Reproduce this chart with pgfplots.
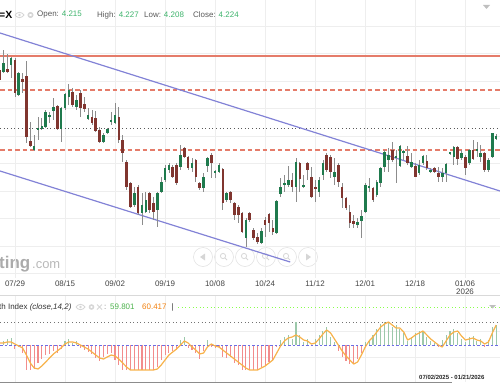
\documentclass[border=0pt]{standalone}
\usepackage{pgfplots}
\pgfplotsset{compat=1.18}
\usepackage{pgfplotstable}
\usepackage{fontspec}
\setmainfont{Liberation Sans}
\definecolor{gridc}{HTML}{EEEEEE}
\definecolor{resl}{HTML}{E57C6A}
\definecolor{trend}{HTML}{8282D6}
\definecolor{upc}{HTML}{1F7A4D}
\definecolor{dnc}{HTML}{80352F}
\definecolor{wickc}{HTML}{8C8C8C}
\definecolor{valg}{HTML}{3DB36B}
\definecolor{labc}{HTML}{444444}
\definecolor{barr}{HTML}{F28C8C}
\definecolor{barg}{HTML}{9CC8AA}
\definecolor{orn}{HTML}{F7B24A}
\definecolor{basec}{HTML}{6E6EE6}
\definecolor{wm}{HTML}{ABABAB}
\definecolor{icon}{HTML}{D6D6D6}

% candles: i = candle index, o h l c (screen units, larger = lower)
\pgfplotstableread{
i o h l c
0 70 68 82 80
1 72 50 73 63
2 69 54 73 72
3 65 57 78 58
4 60 58 97 93
5 95 72 96 73
6 79 73 93 82
7 76 61 143 137
8 141 122 147 146
9 150 135 151 146
10 129 117 140 128
11 129 118 130 126
12 127 110 128 112
13 116 112 123 115
14 111 98 120 107
15 106 105 130 129
16 129 107 142 108
17 108 93 110 94
18 97 84 105 90
19 92 88 107 105
20 107 95 110 100
21 93 90 117 108
22 104 97 112 109
23 119 108 120 115
24 117 110 125 123
25 118 111 132 131
26 130 127 143 142
27 142 133 143 135
28 133 128 134 129
29 121 112 125 120
30 123 103 124 115
31 117 107 143 140
32 140 135 162 153
33 162 160 190 187
34 183 182 208 207
35 205 187 207 193
36 187 185 215 213
37 213 193 225 205
38 212 192 213 200
39 193 192 213 210
40 203 197 220 212
41 210 192 227 193
42 192 177 193 182
43 180 165 182 168
44 170 163 173 165
45 167 165 178 177
46 165 163 185 183
47 167 145 170 155
48 148 147 158 157
49 157 156 170 168
50 168 158 172 163
51 160 159 182 177
52 183 182 190 188
53 188 173 192 177
54 166 157 172 158
55 155 153 178 163
56 172 170 178 171
57 172 163 173 165
58 169 168 210 203
59 200 192 202 193
60 192 191 203 200
61 203 202 220 215
62 207 205 223 215
63 213 212 233 232
64 238 218 247 220
65 213 212 222 220
66 230 228 240 238
67 237 233 244 242
68 243 228 244 231
69 220 217 237 225
70 214 213 232 223
71 228 220 235 232
72 233 200 234 201
73 194 178 197 187
74 184 175 192 183
75 185 166 187 180
76 180 173 192 187
77 187 158 202 162
78 163 162 192 179
79 187 175 188 185
80 163 162 180 170
81 177 167 198 197
82 187 180 202 188
83 192 177 197 180
84 175 160 180 163
85 155 153 172 170
86 157 155 178 172
87 177 158 185 172
88 165 163 187 182
89 187 183 208 198
90 198 197 210 208
91 212 205 228 223
92 221 215 228 224
93 225 218 228 222
94 221 210 238 216
95 212 183 213 185
96 187 178 192 186
97 188 187 202 200
98 195 180 197 182
99 183 167 187 168
100 167 150 172 152
101 160 148 172 155
102 150 142 162 160
103 157.5 150 183 156.5
104 166 145 167 146
105 152.5 150 160 151.5
106 156 146 165 163
107 167 153 168 162
108 166 163 177 177
109 173 160 175 165
110 163 155 165 156
111 161 155 170 168
112 171.5 168 173 170.5
113 168 167 173 172
114 173 167 182 177
115 177 168 182 173
116 173 163 182 164
117 153.5 152 155 152.5
118 157 146 165 147
119 147 146 165 159
120 158 150 160 153
121 157 155 175 168
122 163 149 165 150
123 150 140 160 159
124 150.5 142 157 149.5
125 157 145 162 153
126 153 152 172 170
127 170 158 172 160
128 157 133 158 133
129 139 134 140 136
}\candles

% indicator: k = histogram value, d = smoothed line
\pgfplotstableread{
i k d
0 3 2
1 4 2
2 6 3
3 7 3
4 -4 1
5 -2 -1
6 -8 -3
7 -25 -10
8 -25 -18
9 -24 -23
10 -18 -24
11 -14 -21
12 -10 -17
13 -9 -13
14 -6 -9
15 -8 -6
16 -4 -3
17 4 1
18 6 3
19 2 3
20 4 2
21 -3 0
22 -5 -2
23 -7 -4
24 -9 -7
25 -13 -10
26 -16 -13
27 -12 -14
28 -9 -12
29 -8 -10
30 -15 -11
31 -20 -14
32 -25 -18
33 -25 -22
34 -25 -25
35 -25 -25
36 -25 -25
37 -25 -25
38 -25 -25
39 -25 -25
40 -25 -25
41 -22 -24
42 -15 -20
43 -10 -15
44 -8 -10
45 -6 -7
46 -5 -4
47 5 0
48 8 4
49 -3 2
50 -5 -2
51 -8 -5
52 -14 -9
53 -6 -8
54 5 -2
55 -2 1
56 -3 -1
57 -2 -2
58 -12 -5
59 -13 -8
60 -12 -11
61 -18 -14
62 -20 -17
63 -25 -20
64 -25 -23
65 -25 -25
66 -25 -25
67 -25 -25
68 -22 -23
69 -20 -21
70 -17 -18
71 -16 -15
72 -2 -8
73 5 -1
74 8 4
75 10 7
76 6 8
77 23 10
78 10 8
79 3 5
80 6 4
81 -1 1
82 6 2
83 10 6
84 14 11
85 18 15
86 8 12
87 3 6
88 -6 0
89 -12 -6
90 -16 -11
91 -19 -15
92 -19 -19
93 -14 -17
94 -8 -10
95 3 -2
96 5 4
97 10 8
98 16 13
99 21 18
100 23 21
101 23 23
102 18 20
103 20 17
104 16 17
105 12 13
106 4 5
107 8 7
108 12 10
109 14 12
110 14 14
111 8 10
112 4 6
113 2 3
114 -2 0
115 5 -2
116 10 4
117 14 10
118 16 13
119 12 14
120 6 9
121 3 5
122 8 6
123 9 7
124 4 5
125 6 4
126 -2 1
127 5 3
128 18 12
129 20 20
}\stoch

\begin{document}
\begin{tikzpicture}[x=1bp,y=1bp]
\path[use as bounding box] (0,0) rectangle (500,383);

% watermark
\node[anchor=base west, inner sep=0, text=wm, font=\bfseries\fontsize{17}{17}\selectfont] at (-1,115) {ting};
\node[anchor=base west, inner sep=0, text=wm!85, font=\fontsize{13}{13}\selectfont] at (32,115) {.com};

% navigation buttons
\foreach \cx in {203,224,245,266,287,308}{
  \draw[icon!70, line width=0.6bp] (\cx,126) circle (9.5);
}
\fill[icon] (200,126) -- (205,129.5) -- (205,122.5) -- cycle;
\fill[icon] (311,126) -- (306,129.5) -- (306,122.5) -- cycle;
\foreach \cx in {224,245,266,287}{
  \draw[icon, line width=0.8bp] (\cx-1,127) circle (2.6);
  \draw[icon, line width=1bp] (\cx+0.9,125.1) -- (\cx+3,123);
}

% ---------------- main price panel ----------------
\begin{axis}[
  at={(0bp,105bp)}, anchor=south west, scale only axis,
  width=500bp, height=278bp,
  xmin=0.13, xmax=130, ymin=0, ymax=278, y dir=reverse,
  axis line style={draw=none}, major tick length=0,
  xtick={4.03,17.01,30.0,42.99,55.97,68.96,81.95,94.94,107.92,120.91},
  xticklabels={07/29,08/15,09/02,09/19,10/08,10/24,11/12,12/01,12/18,{01/06\\2026}},
  xticklabel style={font=\fontsize{8}{8.5}\selectfont, text=labc, align=center, inner sep=2.5bp},
  ytick={26,53.5,81,108.5,136,163.5,191,218.5,246,273.5}, yticklabels={},
  grid=major, major grid style={gridc, line width=0.6bp},
  clip=true,
]
% resistance / support lines
\addplot[resl, line width=1.1bp] coordinates {(0.13,56) (130,56)};
\addplot[resl, line width=1.1bp, dash pattern=on 4.5bp off 3bp] coordinates {(0.13,90) (130,90)};
\addplot[resl, line width=1.1bp, dash pattern=on 4.5bp off 3bp] coordinates {(0.13,150) (130,150)};
\addplot[black!65, line width=0.8bp, dash pattern=on 1bp off 2.6bp] coordinates {(0.13,128) (130,128)};
% channel lines
\addplot[trend, line width=1.2bp] coordinates {(0.13,33) (130,191)};
\addplot[trend, line width=1.2bp] coordinates {(0.13,171) (75.5,262)};
% wicks
\addplot[wickc, draw=none, mark=none, error bars/.cd, y dir=both, y explicit, error mark=none,
  error bar style={draw=wickc, line width=0.75bp}]
  table[x=i, y expr={(\thisrow{h}+\thisrow{l})/2}, y error expr={(\thisrow{l}-\thisrow{h})/2}] {\candles};
% bodies (up: close above open)
\addplot[upc, draw=none, mark=none, error bars/.cd, y dir=both, y explicit, error mark=none,
  error bar style={draw=upc, line width=2.6bp}]
  table[x=i, y expr={(\thisrow{o}+\thisrow{c})/2}, y error expr={(\thisrow{c}<\thisrow{o})*max(abs(\thisrow{o}-\thisrow{c})/2,0.6)}] {\candles};
\addplot[dnc, draw=none, mark=none, error bars/.cd, y dir=both, y explicit, error mark=none,
  error bar style={draw=dnc, line width=2.6bp}]
  table[x=i, y expr={(\thisrow{o}+\thisrow{c})/2}, y error expr={(\thisrow{c}>\thisrow{o})*max(abs(\thisrow{o}-\thisrow{c})/2,0.6)}] {\candles};
\end{axis}

% ---------------- indicator panel ----------------
\begin{axis}[
  at={(0bp,1bp)}, anchor=south west, scale only axis,
  width=500bp, height=86bp,
  xmin=0.13, xmax=130, ymin=-37, ymax=49,
  axis line style={draw=none}, major tick length=0,
  xtick={4.03,17.01,30.0,42.99,55.97,68.96,81.95,94.94,107.92,120.91}, xticklabels={},
  ytick={-12,14}, yticklabels={},
  grid=major, major grid style={gridc, line width=0.6bp},
  clip=true,
]
\addplot[black!55, line width=0.8bp, dash pattern=on 1bp off 2.6bp] coordinates {(0.13,23) (130,23)};
\addplot[green!55!lime!70, line width=0.8bp, dash pattern=on 1bp off 2.6bp] coordinates {(46.4,38) (130,38)};
\addplot[ycomb, draw=barr, line width=1.1bp] table[x=i, y expr={min(\thisrow{k},0)}] {\stoch};
\addplot[ycomb, draw=barg, line width=1.1bp] table[x=i, y expr={max(\thisrow{k},0)}] {\stoch};
\addplot[basec, line width=1bp, dash pattern=on 2.5bp off 2bp] coordinates {(0.13,0) (130,0)};
\addplot[orn, line width=1.2bp, line join=round] table[x=i, y=d] {\stoch};
\end{axis}

% panel separators
\draw[black!15, line width=0.8bp] (0,88) -- (500,88);
\draw[black!45, line width=0.8bp] (0,0.6) -- (452,0.6);

% ---------------- header ----------------
\node[anchor=west, inner sep=0, font=\bfseries\fontsize{10.5}{12}\selectfont] at (-1,368) {=X};
\draw[icon, line width=0.9bp] (15,368) .. controls (17.5,371.5) and (21.5,371.5) .. (24,368) .. controls (21.5,364.5) and (17.5,364.5) .. (15,368);
\fill[icon] (19.5,368) circle (1.4);
\draw[icon, line width=1.6bp] (30.5,368) circle (2.2);
\node[anchor=west, inner sep=0, text=black!65, font=\fontsize{8}{10}\selectfont] at (37,368) {Open: \textcolor{valg}{4.215}};
\node[anchor=west, inner sep=0, text=black!65, font=\fontsize{8}{10}\selectfont] at (97,368) {High: \textcolor{valg}{4.227}};
\node[anchor=west, inner sep=0, text=black!65, font=\fontsize{8}{10}\selectfont] at (144,368) {Low: \textcolor{valg}{4.208}};
\node[anchor=west, inner sep=0, text=black!65, font=\fontsize{8}{10}\selectfont] at (193,368) {Close: \textcolor{valg}{4.224}};
\fill[black!25] (483,378) -- (490,378) -- (486.5,374) -- cycle;

% indicator title
\node[anchor=west, inner sep=0, text=black!80, font=\fontsize{8}{10}\selectfont] at (-1,76) {th Index \textit{(close,14,2)}};
\draw[icon, line width=0.9bp] (76,76) .. controls (78.5,79.5) and (82.5,79.5) .. (85,76) .. controls (82.5,72.5) and (78.5,72.5) .. (76,76);
\fill[icon] (80.5,76) circle (1.3);
\draw[icon, line width=1.5bp] (91.5,76) circle (2);
\draw[icon, line width=1bp] (97,73.5) -- (102,78.5) (97,78.5) -- (102,73.5);
\node[anchor=west, inner sep=0, text=black!50, font=\fontsize{8}{10}\selectfont] at (104,76) {:};
\node[anchor=west, inner sep=0, text=green!40!gray, font=\fontsize{8}{10}\selectfont] at (110,76) {59.801};
\node[anchor=west, inner sep=0, text=orange!80!brown, font=\fontsize{8}{10}\selectfont] at (142,76) {60.417};
\node[anchor=west, inner sep=0, text=black!80, font=\fontsize{8}{10}\selectfont] at (171.5,76) {|};
\fill[black!25] (489,78) -- (496,78) -- (492.5,74.5) -- cycle;

% range text
\node[anchor=west, inner sep=0, text=black!85, font=\bfseries\fontsize{6}{7}\selectfont] at (419,6) {07/02/2025 - 01/21/2026};
\end{tikzpicture}
\end{document}
